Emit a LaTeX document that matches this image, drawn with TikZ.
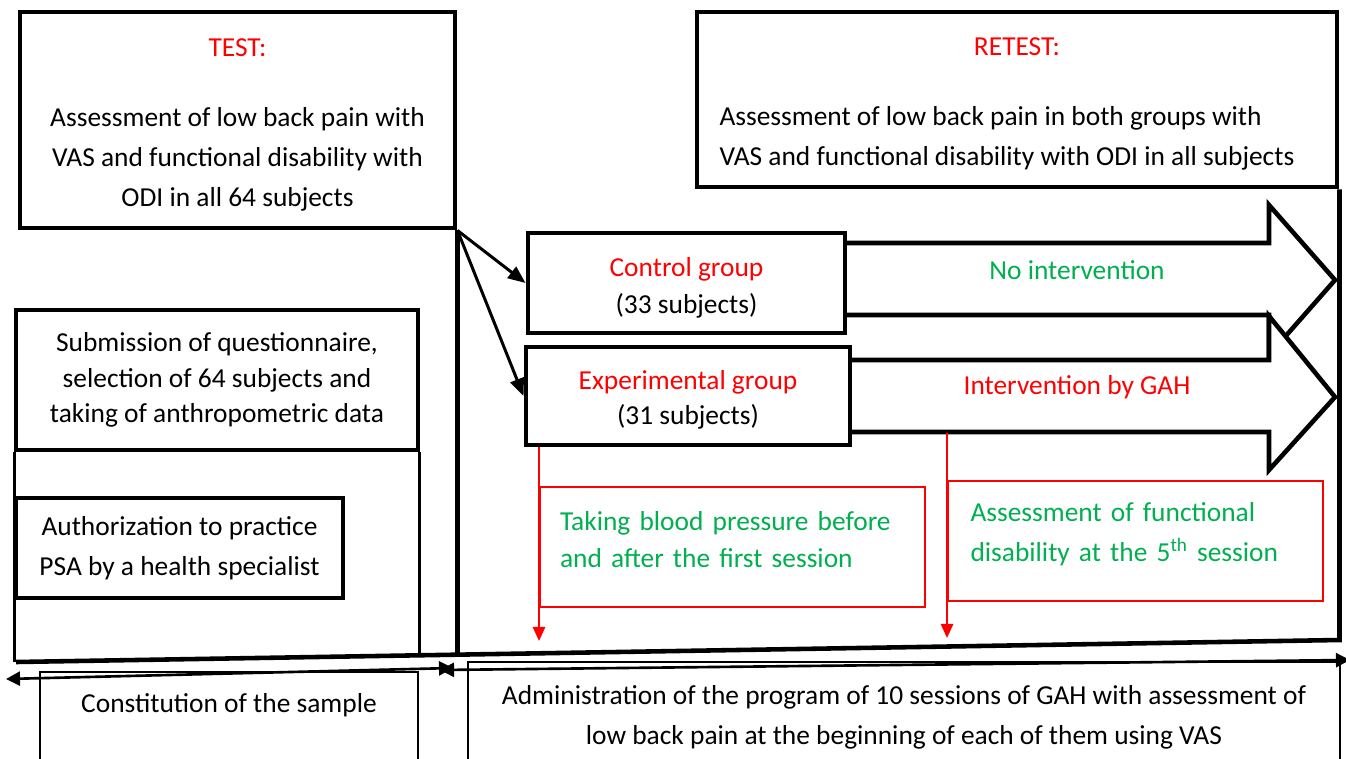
\documentclass[tikz,border=0pt]{standalone}
\usepackage{fontspec}
\setmainfont{Carlito}
\usepackage{tikz}
\usetikzlibrary{arrows.meta}
\definecolor{gahgreen}{RGB}{0,176,80}
\newcommand{\figfont}{\fontsize{15.6}{22.8}\selectfont}
\newcommand{\figfonttight}{\fontsize{15.6}{20.2}\selectfont}

\begin{document}
\begin{tikzpicture}[scale=0.2]
\tikzstyle{every node}+=[inner sep=0pt, font=\figfont]
\tikzstyle{heavybox}=[draw=black, line width=2.8pt, fill=white, align=center]
\tikzstyle{plainbox}=[draw=black, line width=1.8pt, fill=white, align=center]
\tikzstyle{thinbox}=[draw=black, line width=1.1pt, fill=white, align=center]
\tikzstyle{notebox}=[draw=red, line width=1.1pt, fill=white, text=gahgreen, align=left]
\tikzstyle{grouparrow}=[line width=1.7pt, -{Triangle[length=10pt,width=8pt]}]
\tikzstyle{redarrow}=[draw=red, fill=red, line width=1.1pt, -{Triangle[length=8pt,width=7pt]}]
\tikzstyle{spanarrow}=[line width=1.5pt, {Triangle[length=8pt,width=8pt]}-{Triangle[length=8pt,width=8pt]}]
\useasboundingbox (0,0) rectangle (134.6,-75.8);
% block arrows
\draw [black, line width=2.6pt, fill=white] (84.0,-24.3) -- (126.9,-24.3) -- (126.9,-20.5) -- (133.5,-28.0) -- (126.9,-35.5) -- (126.9,-31.5) -- (84.0,-31.5) -- cycle;
\draw [black, line width=2.6pt, fill=white] (84.5,-36.0) -- (126.9,-36.0) -- (126.9,-31.6) -- (133.5,-39.7) -- (126.9,-47.0) -- (126.9,-43.2) -- (84.5,-43.2) -- cycle;
\node [text=gahgreen] (noint) at (107.7,-27.0) {No intervention};
\node [text=red] (gah) at (107.7,-38.7) {Intervention by GAH};
% boxes
\node [heavybox, minimum width=8.7cm, minimum height=4.32cm] (test) at (23.75,-12.0) {\rule{0pt}{0.55cm}\textcolor{red}{TEST:}\\[0.6cm]Assessment of low back pain with\\VAS and functional disability with\\ODI in all 64 subjects};
\node [heavybox, minimum width=12.8cm, minimum height=3.5cm] (retest) at (101.7,-9.95) {\rule{0pt}{0.67cm}\textcolor{red}{RETEST:}\\[0.6cm]\begin{tabular}[t]{@{}l@{\hspace{0.4cm}}}Assessment of low back pain in both groups with\\VAS and functional disability with ODI in all subjects\end{tabular}};
\node [heavybox, minimum width=6.34cm, minimum height=2.0cm] (ctrl) at (68.65,-28.3) {\rule{0pt}{0.58cm}\textcolor{red}{Control group}\\[-0.05cm](33 subjects)};
\node [heavybox, minimum width=6.48cm, minimum height=1.96cm] (expt) at (68.8,-39.6) {\rule{0pt}{0.54cm}\textcolor{red}{Experimental group}\\[-0.1cm](31 subjects)};
\node [plainbox, minimum width=8.04cm, minimum height=2.8cm, font=\figfonttight] (subm) at (21.7,-38.0) {Submission of questionnaire,\\selection of 64 subjects and\\taking of anthropometric data};
\node [plainbox, minimum width=6.54cm, minimum height=2.0cm] (auth) at (17.95,-54.8) {Authorization to practice\\PSA by a health specialist};
\node [thinbox, minimum width=7.56cm, minimum height=2.0cm, text depth=0.76cm] (sample) at (22.9,-72.2) {Constitution of the sample};
\node [thinbox, minimum width=17.44cm, minimum height=2.2cm] (admin) at (90.4,-71.7) {Administration of the program of 10 sessions of GAH with assessment of\\low back pain at the beginning of each of them using VAS};
\node [notebox, minimum width=7.7cm, minimum height=2.4cm, text width=6.9cm] (blood) at (73.25,-54.7) {Taking blood pressure before\\[-0.05cm]and after the first session\rule[-0.3cm]{0pt}{0.3cm}};
\node [notebox, minimum width=7.5cm, minimum height=2.4cm, text width=6.6cm] (func) at (113.55,-54.1) {Assessment of functional\\disability at the 5\textsuperscript{th} session\rule[-0.38cm]{0pt}{0.38cm}};
% frames
\coordinate (frameBL) at (1.6,-66.2);
\coordinate (frameBR) at (133.7,-64.0);
\coordinate (frameMid) at (45.5,-65.5);
\coordinate (sampleTop) at (41.8,-65.5);
\draw [line width=2.6pt] (retest.south east) -- (retest.south east |- frameBR) -- (frameBL);
\draw [line width=2.6pt] (test.south east) -- (test.south east |- frameMid);
\draw [line width=1.8pt] (subm.south west) -- (subm.south west |- frameBL);
\draw [line width=1.8pt] (subm.south east) -- (subm.south east |- sampleTop);
% groups
\draw [grouparrow] (test.south east) -- (ctrl.west);
\draw [grouparrow] (test.south east) -- (expt.west);
% red arrows
\coordinate (bpEnd) at (54.0,-64.1);
\coordinate (gahFoot) at (94.8,-43.3);
\coordinate (fnEnd) at (94.8,-63.8);
\draw [redarrow] (expt.south -| blood.west) -- (blood.west |- bpEnd);
\draw [redarrow] (func.west |- gahFoot) -- (func.west |- fnEnd);
% spans
\coordinate (sampleL) at (0.6,-67.9);
\coordinate (sampleR) at (45.3,-66.8);
\coordinate (progL) at (44.0,-67.0);
\coordinate (progR) at (135.0,-66.0);
\draw [spanarrow] (sampleL) -- (sampleR);
\draw [spanarrow] (progL) -- (progR);
\end{tikzpicture}
\end{document}
